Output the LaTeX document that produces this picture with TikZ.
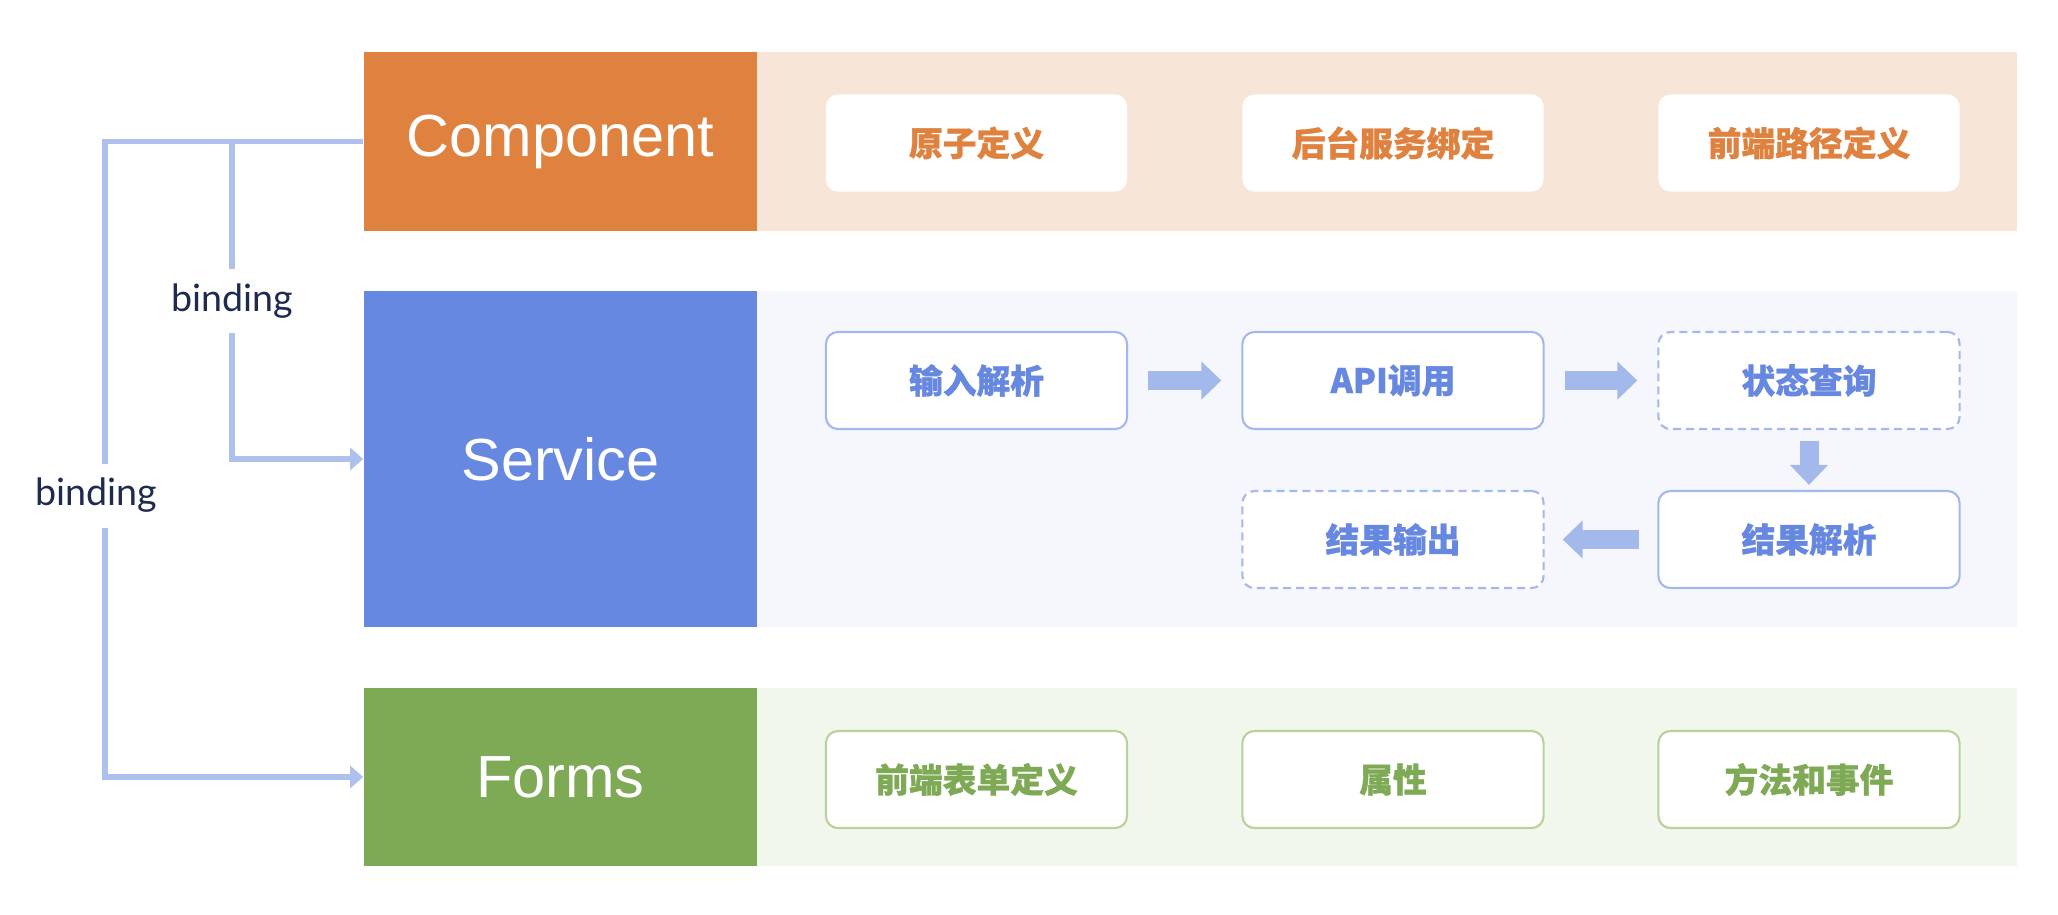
\documentclass[tikz,border=0pt]{standalone}
\usepackage{fontspec}
\setmainfont{Liberation Sans}
\newfontfamily\cjk{Noto Sans CJK SC}[BoldFeatures={FakeBold=1}]
\newfontfamily\labelfont{Lato}
\usetikzlibrary{arrows.meta}
\definecolor{comporange}{HTML}{E0823F}
\definecolor{complight}{HTML}{F7E5D7}
\definecolor{servblue}{HTML}{6788E0}
\definecolor{servlight}{HTML}{F5F7FC}
\definecolor{formgreen}{HTML}{7EA955}
\definecolor{formlight}{HTML}{F2F7EE}
\definecolor{edgeblue}{HTML}{A3B8EB}
\definecolor{linkblue}{HTML}{AEC0EE}
\definecolor{edgegreen}{HTML}{B5D39A}
\definecolor{navy}{HTML}{1E2B4F}
\tikzset{
  band/.style={minimum width=3.93cm, inner sep=0pt, text=white, font=\fontsize{16.9}{20}\selectfont},
  box/.style={rounded corners=0.12cm, minimum width=3.01cm, minimum height=0.97cm, fill=white, inner sep=0pt, font=\cjk\bfseries\fontsize{9.6}{12}\selectfont},
  compbox/.style={box, text=comporange},
  servbox/.style={box, draw=edgeblue, line width=0.6pt, text=servblue},
  formbox/.style={box, draw=edgegreen, line width=0.6pt, text=formgreen},
  dashbox/.style={dash pattern=on 0.08cm off 0.05cm},
  fat/.style={edgeblue, line width=0.19cm, -{Triangle[length=0.2cm,width=0.37cm]}},
  link/.style={linkblue, line width=0.055cm},
  linkarrow/.style={link, -{Triangle[length=0.13cm,width=0.22cm]}},
  bindlabel/.style={font=\labelfont\fontsize{10.7}{13}\selectfont, text=navy, inner xsep=0pt, inner ysep=0.14cm}
}

\begin{document}
\begin{tikzpicture}[x=0.01cm, y=-0.01cm]
\useasboundingbox (0,0) rectangle (2058,914);

\fill[complight] (757,52) rectangle (2017,231);
\fill[servlight] (757,291) rectangle (2017,627);
\fill[formlight] (757,688) rectangle (2017,866);

\node[band, fill=comporange, minimum height=1.79cm] (comp) at (560.5,141.5) {Component};
\node[band, fill=servblue, minimum height=3.36cm] (serv) at (560.5,459) {Service};
\node[band, fill=formgreen, minimum height=1.78cm] (forms) at (560.5,777) {Forms};

\node[compbox] (atom) at (976.5,143) {原子定义};
\node[compbox] (backend) at (1393,143) {后台服务绑定};
\node[compbox] (route) at (1809,143) {前端路径定义};

\node[servbox] (parsein) at (976.5,380.5) {输入解析};
\node[servbox] (api) at (1393,380.5) {API调用};
\node[servbox, dashbox] (state) at (1809,380.5) {状态查询};
\node[servbox, dashbox] (output) at (1393,539.5) {结果输出};
\node[servbox] (parseres) at (1809,539.5) {结果解析};

\node[formbox] (formdef) at (976.5,779.5) {前端表单定义};
\node[formbox] (attr) at (1393,779.5) {属性};
\node[formbox] (method) at (1809,779.5) {方法和事件};

\draw[fat, shorten <=0.2cm, shorten >=0.2cm] (parsein) -- (api);
\draw[fat, shorten <=0.2cm, shorten >=0.2cm] (api) -- (state);
\draw[fat, shorten <=0.11cm, shorten >=0.05cm] (state) -- (parseres);
\draw[fat, shorten <=0.18cm, shorten >=0.18cm] (parseres) -- (output);

\node[bindlabel] (bindA) at (96,495.5) {binding};
\node[bindlabel] (bindB) at (232,301) {binding};

\draw[link] (comp.west) -| ([xshift=0.09cm]bindA.north);
\draw[linkarrow] ([xshift=0.09cm]bindA.south) |- (forms.west);
\draw[link] (bindB.north) -- (bindB.north |- comp.west);
\draw[linkarrow] (bindB.south) |- (serv.west);
\end{tikzpicture}
\end{document}
